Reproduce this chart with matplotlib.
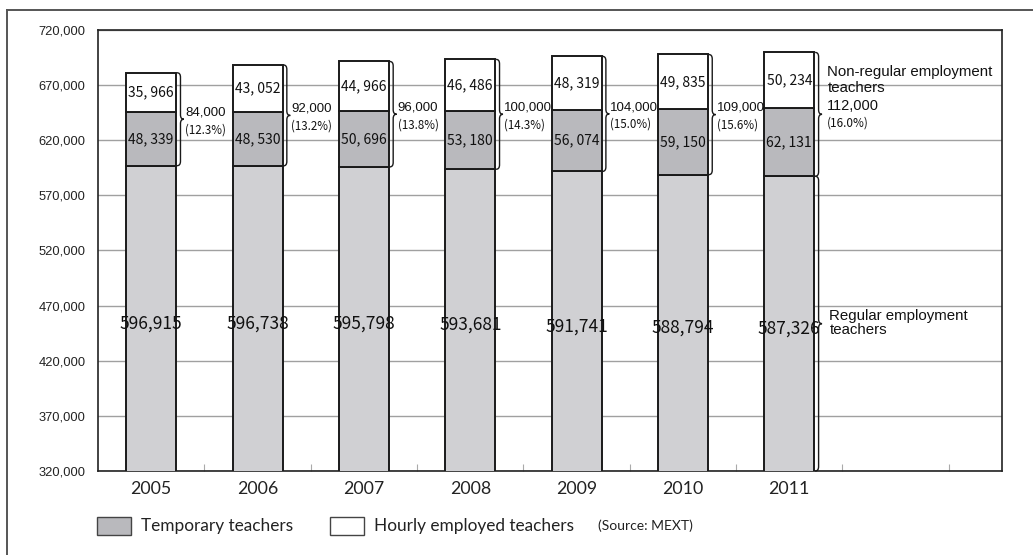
"""Stacked bars of public school teachers by employment type, 2005-2011."""

import matplotlib
matplotlib.use("Agg")
import matplotlib.pyplot as plt
from matplotlib.lines import Line2D
from matplotlib.patches import PathPatch, Rectangle
from matplotlib.path import Path

YEARS = ["2005", "2006", "2007", "2008", "2009", "2010", "2011"]
REGULAR = [596915, 596738, 595798, 593681, 591741, 588794, 587326]
TEMPORARY = [48339, 48530, 50696, 53180, 56074, 59150, 62131]
HOURLY = [35966, 43052, 44966, 46486, 48319, 49835, 50234]
NON_REGULAR = ["84,000", "92,000", "96,000", "100,000", "104,000", "109,000", "112,000"]
NON_REGULAR_SHARE = ["(12.3%)", "(13.2%)", "(13.8%)", "(14.3%)", "(15.0%)", "(15.6%)", "(16.0%)"]
Y_TICKS = [320000, 370000, 420000, 470000, 520000, 570000, 620000, 670000, 720000]

REGULAR_COLOR = "#d0d0d3"
TEMPORARY_COLOR = "#b9b9bd"
HOURLY_COLOR = "#ffffff"
EDGE = "#1a1a1a"
GOTHIC = ["Noto Sans CJK JP", "DejaVu Sans"]
SANS = ["Liberation Sans", "DejaVu Sans"]
LEGEND_FONT = ["Lato", "DejaVu Sans"]

BAR_WIDTH = 0.47
Y_MIN, Y_MAX = 320000, 720000


def brace(ax, x0, y0, y1, width=0.065, r=4000):
    """Right-pointing curly brace from y0 to y1 starting at x0."""
    xm = x0 + width / 2
    xt = x0 + width
    ym = (y0 + y1) / 2
    verts = [
        (x0, y0), (xm, y0), (xm, y0 + r),
        (xm, ym - r),
        (xm, ym), (xt, ym),
        (xm, ym), (xm, ym + r),
        (xm, y1 - r),
        (xm, y1), (x0, y1),
    ]
    codes = [
        Path.MOVETO, Path.CURVE3, Path.CURVE3,
        Path.LINETO,
        Path.CURVE3, Path.CURVE3,
        Path.CURVE3, Path.CURVE3,
        Path.LINETO,
        Path.CURVE3, Path.CURVE3,
    ]
    ax.add_patch(PathPatch(Path(verts, codes), facecolor="none", edgecolor=EDGE,
                           lw=1.0, clip_on=False, zorder=4))
    return xt, ym


def main() -> int:
    fig = plt.figure(figsize=(10.33, 5.55), dpi=100)
    ax = fig.add_axes([98 / 1033, 1 - 471 / 555, 904 / 1033, 441 / 555])

    # outer frame (left and top edges only)
    fig.add_artist(Line2D([7 / 1033, 7 / 1033], [0, 1 - 10 / 555], transform=fig.transFigure,
                          color="#555555", lw=1.4))
    fig.add_artist(Line2D([7 / 1033, 1], [1 - 10 / 555, 1 - 10 / 555], transform=fig.transFigure,
                          color="#555555", lw=1.4))

    x = list(range(len(YEARS)))
    temp_bottom = REGULAR
    hourly_bottom = [r + t for r, t in zip(REGULAR, TEMPORARY)]
    tops = [b + h for b, h in zip(hourly_bottom, HOURLY)]

    ax.bar(x, REGULAR, width=BAR_WIDTH, color=REGULAR_COLOR, edgecolor=EDGE, lw=1.4, zorder=3)
    ax.bar(x, TEMPORARY, width=BAR_WIDTH, bottom=temp_bottom, color=TEMPORARY_COLOR,
           edgecolor=EDGE, lw=1.4, zorder=3)
    ax.bar(x, HOURLY, width=BAR_WIDTH, bottom=hourly_bottom, color=HOURLY_COLOR,
           edgecolor=EDGE, lw=1.4, zorder=3)

    for i in x:
        ax.text(i, (Y_MIN + REGULAR[i]) / 2 - 4500, f"{REGULAR[i]:,}", ha="center", va="center",
                fontsize=12.5, family=GOTHIC, color="#111111", zorder=5)
        ax.text(i, temp_bottom[i] + TEMPORARY[i] / 2, f"{TEMPORARY[i]:,}".replace(",", ", "),
                ha="center", va="center", fontsize=10, family=GOTHIC, color="#111111", zorder=5)
        ax.text(i, hourly_bottom[i] + HOURLY[i] / 2, f"{HOURLY[i]:,}".replace(",", ", "),
                ha="center", va="center", fontsize=10, family=GOTHIC, color="#111111", zorder=5)

        xt, ym = brace(ax, i + BAR_WIDTH / 2 + 0.008, REGULAR[i], tops[i])
        if i < len(YEARS) - 1:
            ax.text(xt + 0.01, ym + 6000, NON_REGULAR[i], ha="left", va="center",
                    fontsize=9.5, family=SANS, color="#111111", zorder=5)
            ax.text(xt + 0.01, ym - 9500, NON_REGULAR_SHARE[i], ha="left", va="center",
                    fontsize=8.3, family=GOTHIC, color="#111111", zorder=5)
        else:
            tx = xt + 0.05
            ax.text(tx, ym + 38000, "Non-regular employment", ha="left", va="center",
                    fontsize=10.8, family=SANS, color="#111111", zorder=5)
            ax.text(tx, ym + 24000, "teachers", ha="left", va="center",
                    fontsize=10.8, family=SANS, color="#111111", zorder=5)
            ax.text(tx, ym + 8000, NON_REGULAR[i], ha="left", va="center",
                    fontsize=10.5, family=SANS, color="#111111", zorder=5)
            ax.text(tx, ym - 7500, NON_REGULAR_SHARE[i], ha="left", va="center",
                    fontsize=8.5, family=GOTHIC, color="#111111", zorder=5)
            xr, yr = brace(ax, i + BAR_WIDTH / 2 + 0.008, Y_MIN, REGULAR[i])
            ax.text(xr + 0.07, yr + 7000, "Regular employment", ha="left", va="center",
                    fontsize=10.8, family=SANS, color="#111111", zorder=5)
            ax.text(xr + 0.07, yr - 6000, "teachers", ha="left", va="center",
                    fontsize=10.8, family=SANS, color="#111111", zorder=5)

    ax.set_xlim(-0.5, 8.0)
    ax.set_ylim(Y_MIN, Y_MAX)
    ax.set_yticks(Y_TICKS)
    ax.set_yticklabels([f"{v:,}" for v in Y_TICKS], fontsize=9.3, family=SANS, color="#222222")
    ax.tick_params(axis="y", length=0, pad=9)
    ax.set_xticks(x)
    ax.set_xticklabels(YEARS, fontsize=12.8, family=LEGEND_FONT, color="#222222")
    ax.tick_params(axis="x", length=0, pad=7)
    ax.set_xticks([k + 0.5 for k in range(8)], minor=True)
    ax.tick_params(axis="x", which="minor", direction="in", length=5, color="#aaaaaa", width=0.8)
    ax.grid(axis="y", color="#a0a0a0", lw=1.0, zorder=0)
    for spine in ax.spines.values():
        spine.set_color("#222222")
        spine.set_linewidth(1.2)

    # legend row
    fig.add_artist(Rectangle((97 / 1033, 1 - 535 / 555), 34 / 1033, 18 / 555,
                             transform=fig.transFigure, facecolor=TEMPORARY_COLOR,
                             edgecolor="#444444", lw=1.0))
    fig.text(141 / 1033, 1 - 526 / 555, "Temporary teachers", ha="left", va="center",
             fontsize=12.4, family=LEGEND_FONT, color="#222222")
    fig.add_artist(Rectangle((330 / 1033, 1 - 535 / 555), 34 / 1033, 18 / 555,
                             transform=fig.transFigure, facecolor=HOURLY_COLOR,
                             edgecolor="#444444", lw=1.0))
    fig.text(374 / 1033, 1 - 526 / 555, "Hourly employed teachers", ha="left", va="center",
             fontsize=12.4, family=LEGEND_FONT, color="#222222")
    fig.text(598 / 1033, 1 - 526 / 555, "(Source: MEXT)", ha="left", va="center",
             fontsize=10, family=LEGEND_FONT, color="#222222")

    fig.savefig("out.png", dpi=100)
    plt.close(fig)
    return 0


if __name__ == "__main__":
    raise SystemExit(main())
